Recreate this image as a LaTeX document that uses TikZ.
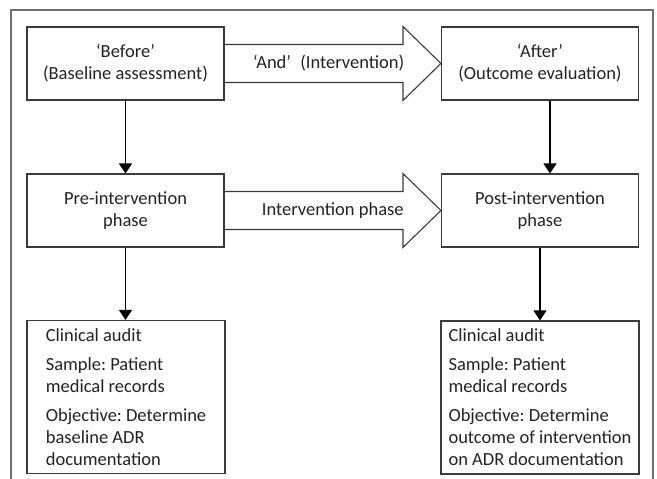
\documentclass[tikz,border=0pt]{standalone}
\usepackage{fontspec}
\setmainfont{Carlito}
\usepackage{tikz}
\usepackage{xcolor}
\usetikzlibrary{positioning}
\usetikzlibrary{calc}
\usetikzlibrary{arrows.meta}

\definecolor{boxline}{HTML}{3A3A3A}
\definecolor{framegray}{HTML}{6E6E6E}
\definecolor{txt}{HTML}{222222}

\newcommand{\boxfont}{\fontsize{18.5}{22}\selectfont\frenchspacing}

\tikzset{
  phasebox/.style={draw=boxline, line width=1.1, minimum width=197, minimum height=73,
    align=center, font=\boxfont, text=txt, inner sep=2},
  auditbox/.style={draw=boxline, line width=1.1, minimum width=198, minimum height=153,
    align=left, font=\boxfont, text=txt, inner sep=2},
  downarrow/.style={line width=1.2, -{Triangle[width=13,length=10]}},
  fatarrow/.style={draw=boxline, line width=1.1, line join=miter},
  arrowlabel/.style={font=\boxfont, text=txt, inner sep=0}
}

\begin{document}
\begin{tikzpicture}[x=1pt,y=-1pt]
\useasboundingbox (0,0) rectangle (657,479);

% outer frame, open at the bottom
\draw [framegray, line width=1.2] (11,479) -- (11,10) -- (653,10) -- (653,479);

% top row
\node [phasebox] (before) at (125.5,63.5) {‘Before’\\(Baseline assessment)};
\node [phasebox] (after) at (540,63.5) {‘After’\\(Outcome evaluation)};

% middle row
\node [phasebox] (pre) at (125.5,210.5) {Pre-intervention\\phase};
\node [phasebox] (post) at (540,210.5) {Post-intervention\\phase};

% bottom row
\node [auditbox] (auditpre) at (126,397) {Clinical audit\\[7pt]
  Sample: Patient\\medical records\\[7pt]
  Objective: Determine\\baseline ADR\\documentation};
\node [auditbox] (auditpost) at (540,397.5) {Clinical audit\\[7pt]
  Sample: Patient\\medical records\\[7pt]
  Objective: Determine\\outcome of intervention\\on ADR documentation};

% block arrows between the columns
\draw [fatarrow] ($(before.east)+(0,-19)$) -- ($(after.west)+(-38,-19)$)
  -- ($(after.west)+(-38,-37)$) -- (after.west) -- ($(after.west)+(-38,37)$)
  -- ($(after.west)+(-38,19)$) -- ($(before.east)+(0,19)$);
\node [arrowlabel, xshift=-4] (andlbl) at ($(before.east)!0.5!(after.west)$)
  {‘And’\enspace(Intervention)};

\draw [fatarrow] ($(pre.east)+(0,-19)$) -- ($(post.west)+(-38,-19)$)
  -- ($(post.west)+(-38,-37)$) -- (post.west) -- ($(post.west)+(-38,37)$)
  -- ($(post.west)+(-38,19)$) -- ($(pre.east)+(0,19)$);
\node [arrowlabel] (phaselbl) at ($(pre.east)!0.5!(post.west)$) {Intervention phase};

% vertical arrows
\draw [downarrow] (before) -- (pre);
\draw [downarrow] (pre) -- (auditpre.north -| pre.south);
\draw [downarrow] ($(after.south)+(10,0)$) -- ($(post.north)+(10,0)$);
\draw [downarrow] (post) -- (auditpost);
\end{tikzpicture}
\end{document}
